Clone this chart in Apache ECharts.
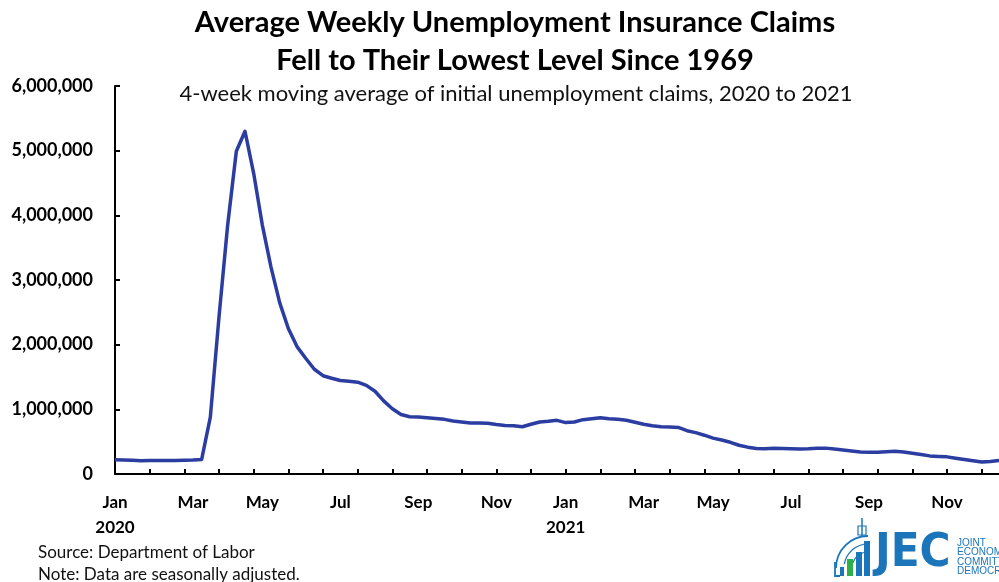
<!DOCTYPE html>
<html>
<head>
<meta charset="utf-8">
<script src="https://cdn.jsdelivr.net/npm/echarts@6/dist/echarts.min.js"></script>
<style>
html,body{margin:0;padding:0;background:#fff;}
#chart{width:999px;height:582px;}
</style>
</head>
<body>
<div id="chart"></div>
<script>
// Weekly categories (week ending Saturdays), Jan 4, 2020 onward
var startDate = '2020-01-04';
var weekCount = 103;

// 4-week moving average of initial unemployment claims
var claims = [
  220000, 215000, 212000, 205000, 208000, 208000, 208000, 210000, 212000, 215000,
  225000, 880000, 2430000, 3850000, 4990000, 5300000, 4650000, 3850000, 3200000, 2650000,
  2250000, 1970000, 1790000, 1620000, 1520000, 1480000, 1445000, 1435000, 1420000, 1370000,
  1280000, 1130000, 1010000, 920000, 885000, 880000, 870000, 860000, 845000, 820000,
  805000, 790000, 790000, 785000, 765000, 750000, 745000, 730000, 770000, 805000,
  815000, 830000, 795000, 805000, 840000, 855000, 870000, 855000, 845000, 830000,
  800000, 770000, 745000, 730000, 725000, 720000, 670000, 640000, 600000, 555000,
  525000, 490000, 445000, 415000, 395000, 390000, 400000, 395000, 390000, 385000,
  390000, 400000, 400000, 385000, 370000, 355000, 340000, 335000, 335000, 345000,
  350000, 340000, 320000, 300000, 280000, 272000, 265000, 245000, 225000, 205000,
  185000, 195000, 210000
];

var monthNames = ['Jan','Feb','Mar','Apr','May','Jun','Jul','Aug','Sep','Oct','Nov','Dec'];
var yTicks = [0, 1000000, 2000000, 3000000, 4000000, 5000000, 6000000];

var titleLines = ['Average Weekly Unemployment Insurance Claims', 'Fell to Their Lowest Level Since 1969'];
var subtitle = '4-week moving average of initial unemployment claims, 2020 to 2021';
var notes = ['Source: Department of Labor', 'Note: Data are seasonally adjusted.'];

function pad(n){ return (n < 10 ? '0' : '') + n; }
var weeks = [];
(function(){
  var d = new Date(startDate + 'T00:00:00Z');
  for (var i = 0; i < weekCount; i++) {
    weeks.push(d.getUTCFullYear() + '-' + pad(d.getUTCMonth() + 1) + '-' + pad(d.getUTCDate()));
    d = new Date(d.getTime() + 7 * 86400000);
  }
})();

function isLabelWeek(v) {
  var m = parseInt(v.slice(5, 7), 10);
  var day = parseInt(v.slice(8, 10), 10);
  return day <= 7 && (m % 2 === 1);
}

var blue = '#1B75BB';
var chart = echarts.init(document.getElementById('chart'));
chart.setOption({
  animation: false,
  backgroundColor: '#fff',
  grid: { left: 115, right: 0, top: 86, bottom: 108, containLabel: false },
  xAxis: {
    type: 'category',
    data: weeks,
    boundaryGap: false,
    axisLine: { show: true, lineStyle: { color: '#000', width: 2 } },
    axisTick: { show: true, inside: true, length: 5, interval: 3, lineStyle: { color: '#000', width: 2 } },
    axisLabel: {
      interval: function (idx, v) { return isLabelWeek(v); },
      formatter: function (v) {
        var m = parseInt(v.slice(5, 7), 10);
        var s = monthNames[m - 1];
        if (m === 1) s += '\n' + v.slice(0, 4);
        return s;
      },
      color: '#000',
      fontFamily: 'Lato',
      fontWeight: 'bold',
      fontSize: 17,
      lineHeight: 25,
      margin: 16
    },
    splitLine: { show: false }
  },
  yAxis: {
    type: 'value',
    min: yTicks[0],
    max: yTicks[yTicks.length - 1],
    interval: 1000000,
    axisLine: { show: true, lineStyle: { color: '#000', width: 2 } },
    axisTick: { show: true, inside: true, length: 5, lineStyle: { color: '#000', width: 2 } },
    axisLabel: {
      formatter: function (v) { return v.toLocaleString('en-US'); },
      color: '#000',
      fontFamily: 'Lato',
      fontWeight: 'bold',
      fontSize: 18,
      margin: 22
    },
    splitLine: { show: false }
  },
  series: [{
    type: 'line',
    data: claims,
    showSymbol: false,
    symbol: 'none',
    smooth: false,
    lineStyle: { color: '#2B3DA0', width: 3.5, join: 'round' },
    z: 3
  }],
  graphic: [
    { type: 'text', x: 515, y: 23, style: { text: titleLines[0], font: 'bold 29px Lato', fill: '#000', align: 'center', verticalAlign: 'middle' } },
    { type: 'text', x: 515, y: 61, style: { text: titleLines[1], font: 'bold 29px Lato', fill: '#000', align: 'center', verticalAlign: 'middle' } },
    { type: 'text', x: 516, y: 94, style: { text: subtitle, font: '22px Lato', fill: '#111', align: 'center', verticalAlign: 'middle' } },
    { type: 'text', x: 38, y: 553, style: { text: notes[0], font: '17px Lato', fill: '#111', align: 'left', verticalAlign: 'middle' } },
    { type: 'text', x: 38, y: 575, style: { text: notes[1], font: '17px Lato', fill: '#111', align: 'left', verticalAlign: 'middle' } },
    // JEC logo
    { type: 'arc', shape: { cx: 868, cy: 568, r: 32, startAngle: Math.PI * 1.0, endAngle: Math.PI * 1.5 }, style: { stroke: blue, lineWidth: 1.8, fill: null } },
    { type: 'arc', shape: { cx: 868, cy: 568, r: 24, startAngle: Math.PI * 1.05, endAngle: Math.PI * 1.5 }, style: { stroke: blue, lineWidth: 1.2, fill: null } },
    { type: 'arc', shape: { cx: 868, cy: 568, r: 16, startAngle: Math.PI * 1.1, endAngle: Math.PI * 1.5 }, style: { stroke: blue, lineWidth: 1.2, fill: null } },
    { type: 'line', shape: { x1: 862, y1: 536, x2: 862, y2: 518 }, style: { stroke: blue, lineWidth: 1.5 } },
    { type: 'rect', shape: { x: 858, y: 526, width: 8, height: 9 }, style: { stroke: blue, lineWidth: 1.2, fill: null } },
    { type: 'polyline', shape: { points: [[835, 562], [835, 576], [840, 576]] }, style: { stroke: blue, lineWidth: 1.8, fill: null } },
    { type: 'rect', shape: { x: 840, y: 567, width: 4, height: 9 }, style: { fill: blue } },
    { type: 'rect', shape: { x: 847, y: 559, width: 6, height: 17 }, style: { fill: '#2BB04A' } },
    { type: 'rect', shape: { x: 856, y: 552, width: 6, height: 24 }, style: { fill: blue } },
    { type: 'rect', shape: { x: 864, y: 541, width: 6, height: 35 }, style: { fill: blue } },
    { type: 'text', x: 875, y: 577, style: { text: 'JEC', font: 'bold 47px "Liberation Sans Narrow", "DejaVu Sans Condensed", sans-serif', fill: blue, align: 'left', verticalAlign: 'bottom' } },
    { type: 'text', x: 957, y: 543, style: { text: 'JOINT', font: '10px "Liberation Sans Narrow", sans-serif', fill: blue, align: 'left', verticalAlign: 'middle' } },
    { type: 'text', x: 957, y: 552, style: { text: 'ECONOMIC', font: '10px "Liberation Sans Narrow", sans-serif', fill: blue, align: 'left', verticalAlign: 'middle' } },
    { type: 'text', x: 957, y: 562, style: { text: 'COMMITTEE', font: '10px "Liberation Sans Narrow", sans-serif', fill: blue, align: 'left', verticalAlign: 'middle' } },
    { type: 'text', x: 957, y: 571, style: { text: 'DEMOCRATS', font: '10px "Liberation Sans Narrow", sans-serif', fill: blue, align: 'left', verticalAlign: 'middle' } }
  ]
});
</script>
</body>
</html>
